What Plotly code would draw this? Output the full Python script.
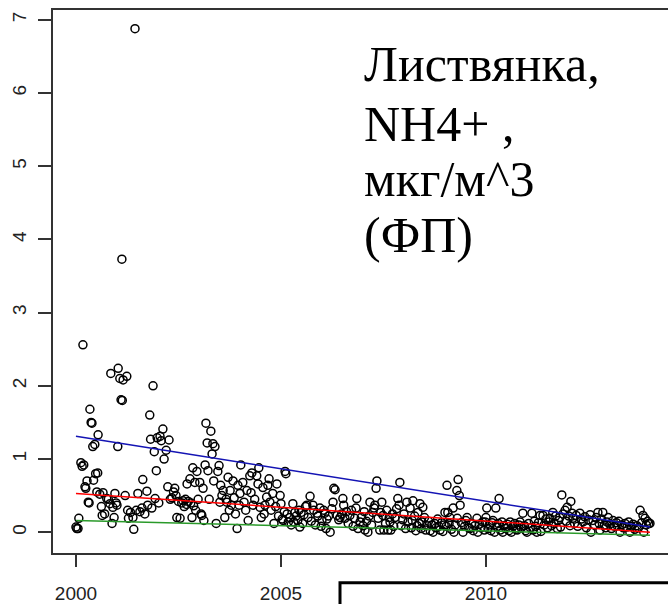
import plotly.graph_objects as go

# ---------------- data ----------------
dates = [
    # 2000
    2000.00, 2000.02, 2000.05, 2000.07, 2000.12, 2000.15, 2000.17, 2000.19, 2000.22, 2000.24,
    2000.27, 2000.30, 2000.32, 2000.34, 2000.37, 2000.39, 2000.41, 2000.43, 2000.46, 2000.48,
    2000.51, 2000.53, 2000.54, 2000.58, 2000.62, 2000.64, 2000.66, 2000.70, 2000.75, 2000.79,
    2000.83, 2000.85, 2000.88, 2000.90, 2000.93, 2000.95, 2000.98,
    # 2001
    2001.00, 2001.02, 2001.03, 2001.07, 2001.10, 2001.12, 2001.13, 2001.15, 2001.20, 2001.24,
    2001.26, 2001.28, 2001.33, 2001.39, 2001.41, 2001.44, 2001.47, 2001.51, 2001.56, 2001.61,
    2001.63, 2001.68, 2001.73, 2001.75, 2001.80, 2001.82, 2001.85, 2001.88, 2001.91, 2001.93,
    2001.96, 2001.98,
    # 2002
    2002.02, 2002.05, 2002.08, 2002.12, 2002.15, 2002.20, 2002.24, 2002.27, 2002.30, 2002.34,
    2002.38, 2002.41, 2002.44, 2002.46, 2002.50, 2002.54, 2002.58, 2002.61, 2002.64, 2002.67,
    2002.70, 2002.71, 2002.74, 2002.78, 2002.80, 2002.83, 2002.85, 2002.87, 2002.90, 2002.92,
    2002.95, 2002.98,
    # 2003
    2003.02, 2003.05, 2003.07, 2003.10, 2003.12, 2003.15, 2003.17, 2003.20, 2003.22, 2003.25,
    2003.29, 2003.32, 2003.34, 2003.36, 2003.39, 2003.42, 2003.46, 2003.49, 2003.51, 2003.53,
    2003.56, 2003.59, 2003.63, 2003.66, 2003.68, 2003.71, 2003.74, 2003.76, 2003.79, 2003.83,
    2003.86, 2003.89, 2003.93, 2003.95, 2003.98,
    # 2004
    2004.00, 2004.02, 2004.07, 2004.10, 2004.14, 2004.17, 2004.20, 2004.24, 2004.27, 2004.29,
    2004.32, 2004.36, 2004.41, 2004.44, 2004.46, 2004.49, 2004.52, 2004.56, 2004.59, 2004.61,
    2004.65, 2004.68, 2004.71, 2004.73, 2004.76, 2004.80, 2004.83, 2004.87, 2004.90, 2004.94,
    2004.98,
    # 2005
    2005.00, 2005.03, 2005.05, 2005.08, 2005.10, 2005.12, 2005.15, 2005.18, 2005.22, 2005.25,
    2005.29, 2005.31, 2005.34, 2005.37, 2005.41, 2005.44, 2005.46, 2005.49, 2005.53, 2005.56,
    2005.60, 2005.63, 2005.66, 2005.71, 2005.74, 2005.78, 2005.80, 2005.84, 2005.88, 2005.90,
    2005.95, 2005.98,
    # 2006
    2006.00, 2006.04, 2006.07, 2006.10, 2006.12, 2006.16, 2006.20, 2006.24, 2006.27, 2006.29,
    2006.32, 2006.37, 2006.41, 2006.44, 2006.48, 2006.51, 2006.53, 2006.56, 2006.60, 2006.64,
    2006.68, 2006.72, 2006.76, 2006.80, 2006.83, 2006.85, 2006.88, 2006.93, 2006.96,
    # 2007
    2007.00, 2007.03, 2007.05, 2007.09, 2007.12, 2007.15, 2007.17, 2007.21, 2007.24, 2007.27,
    2007.29, 2007.32, 2007.34, 2007.37, 2007.41, 2007.43, 2007.46, 2007.49, 2007.51, 2007.55,
    2007.58, 2007.61, 2007.64, 2007.66, 2007.68, 2007.72, 2007.75, 2007.78, 2007.82, 2007.85,
    2007.88, 2007.90, 2007.93, 2007.97,
    # 2008
    2008.00, 2008.04, 2008.07, 2008.10, 2008.15, 2008.18, 2008.20, 2008.22, 2008.26, 2008.29,
    2008.32, 2008.34, 2008.37, 2008.39, 2008.42, 2008.44, 2008.46, 2008.50, 2008.53, 2008.56,
    2008.60, 2008.64, 2008.68, 2008.71, 2008.75, 2008.78, 2008.82, 2008.85, 2008.88, 2008.92,
    2008.95, 2008.98,
    # 2009
    2009.00, 2009.03, 2009.05, 2009.07, 2009.10, 2009.12, 2009.16, 2009.20, 2009.22, 2009.25,
    2009.29, 2009.30, 2009.32, 2009.35, 2009.37, 2009.40, 2009.44, 2009.48, 2009.51, 2009.54,
    2009.58, 2009.61, 2009.65, 2009.69, 2009.73, 2009.78, 2009.80, 2009.84, 2009.88, 2009.92,
    2009.96, 2009.98,
    # 2010
    2010.00, 2010.02, 2010.05, 2010.08, 2010.12, 2010.15, 2010.17, 2010.21, 2010.24, 2010.27,
    2010.30, 2010.32, 2010.35, 2010.39, 2010.41, 2010.44, 2010.48, 2010.52, 2010.56, 2010.59,
    2010.62, 2010.66, 2010.70, 2010.73, 2010.76, 2010.80, 2010.83, 2010.86, 2010.90, 2010.94,
    2010.97,
    # 2011
    2011.00, 2011.04, 2011.08, 2011.12, 2011.15, 2011.18, 2011.21, 2011.24, 2011.28, 2011.32,
    2011.34, 2011.39, 2011.42, 2011.46, 2011.50, 2011.53, 2011.56, 2011.60, 2011.63, 2011.66,
    2011.70, 2011.74, 2011.77, 2011.80, 2011.82, 2011.85, 2011.88, 2011.93, 2011.96, 2011.98,
    # 2012
    2012.02, 2012.05, 2012.07, 2012.10, 2012.12, 2012.16, 2012.20, 2012.24, 2012.29, 2012.33,
    2012.37, 2012.41, 2012.45, 2012.50, 2012.54, 2012.56, 2012.61, 2012.65, 2012.69, 2012.73,
    2012.76, 2012.78, 2012.82, 2012.85, 2012.89, 2012.92, 2012.95, 2012.98,
    # 2013
    2013.02, 2013.06, 2013.10, 2013.14, 2013.18, 2013.20, 2013.24, 2013.27, 2013.31, 2013.35,
    2013.39, 2013.44, 2013.48, 2013.51, 2013.55, 2013.59, 2013.63, 2013.68, 2013.72, 2013.76,
    2013.80, 2013.83, 2013.85, 2013.88, 2013.91, 2013.94, 2013.97, 2014.00,
]

nh4 = [
    # 2000
    0.07, 0.05, 0.05, 0.19, 0.95, 0.90, 2.56, 0.92, 0.62, 0.60,
    0.70, 0.41, 0.40, 1.68, 1.50, 1.49, 1.17, 0.71, 1.20, 0.80,
    0.55, 0.81, 1.33, 0.52, 0.35, 0.23, 0.54, 0.25, 0.46, 0.45,
    0.39, 2.17, 0.12, 0.34, 0.20, 0.53, 0.40,
    # 2001
    0.37, 1.17, 2.24, 2.10, 1.81, 3.73, 1.80, 2.08, 0.50, 2.13,
    0.30, 0.19, 0.27, 0.20, 0.04, 6.88, 0.30, 0.53, 0.28, 0.33,
    0.72, 0.25, 0.56, 0.37, 1.60, 1.27, 0.33, 2.00, 1.10, 0.46,
    0.84, 1.29,
    # 2002
    0.40, 1.31, 1.25, 1.41, 1.00, 1.12, 0.62, 1.26, 0.45, 0.47,
    0.55, 0.60, 0.50, 0.20, 0.42, 0.19, 0.40, 0.43, 0.35, 0.45,
    0.38, 0.66, 0.42, 0.73, 0.40, 0.20, 0.88, 0.36, 0.68, 0.30,
    0.83, 0.45,
    # 2003
    0.68, 0.25, 0.23, 0.60, 0.16, 0.92, 1.49, 1.22, 0.84, 0.45,
    1.38, 1.07, 1.21, 0.70, 1.17, 0.12, 0.83, 0.91, 0.41, 0.64,
    0.50, 0.57, 0.20, 0.45, 0.41, 0.75, 0.30, 0.57, 0.37, 0.70,
    0.47, 0.25, 0.05, 0.64, 0.37,
    # 2004
    0.53, 0.92, 0.68, 0.41, 0.30, 0.57, 0.16, 0.77, 0.54, 0.81,
    0.37, 0.45, 0.77, 0.66, 0.88, 0.34, 0.20, 0.61, 0.25, 0.37,
    0.48, 0.64, 0.73, 0.41, 0.30, 0.53, 0.12, 0.35, 0.66, 0.22,
    0.50,
    # 2005
    0.39, 0.18, 0.16, 0.28, 0.83, 0.80, 0.25, 0.14, 0.20, 0.10,
    0.39, 0.14, 0.27, 0.22, 0.16, 0.30, 0.07, 0.27, 0.12, 0.24,
    0.35, 0.37, 0.20, 0.49, 0.15, 0.37, 0.30, 0.10, 0.26, 0.22,
    0.33, 0.08,
    # 2006
    0.16, 0.30, 0.26, 0.05, 0.18, 0.22, 0.00, 0.32, 0.41, 0.60,
    0.58, 0.23, 0.17, 0.20, 0.25, 0.46, 0.37, 0.19, 0.28, 0.12,
    0.23, 0.30, 0.08, 0.19, 0.33, 0.46, 0.05, 0.14, 0.20,
    # 2007
    0.09, 0.28, 0.03, 0.15, 0.00, 0.22, 0.41, 0.10, 0.27, 0.33,
    0.37, 0.60, 0.70, 0.19, 0.03, 0.27, 0.41, 0.23, 0.03, 0.12,
    0.30, 0.03, 0.20, 0.14, 0.03, 0.25, 0.08, 0.20, 0.32, 0.46,
    0.37, 0.68, 0.09, 0.17,
    # 2008
    0.25, 0.05, 0.41, 0.14, 0.33, 0.06, 0.16, 0.43, 0.22, 0.02,
    0.09, 0.27, 0.12, 0.39, 0.05, 0.14, 0.34, 0.20, 0.03, 0.09,
    0.15, 0.02, 0.10, 0.00, 0.12, 0.06, 0.18, 0.08, 0.03, 0.13,
    0.01, 0.10,
    # 2009
    0.27, 0.08, 0.64, 0.27, 0.12, 0.20, 0.04, 0.33, 0.00, 0.10,
    0.57, 0.19, 0.72, 0.50, 0.37, 0.13, 0.00, 0.08, 0.16, 0.20,
    0.06, 0.05, 0.12, 0.02, 0.09, 0.19, 0.00, 0.11, 0.06, 0.14,
    0.03, 0.14,
    # 2010
    0.20, 0.33, 0.05, 0.10, 0.02, 0.13, 0.16, 0.00, 0.33, 0.07,
    0.12, 0.46, 0.03, 0.14, 0.00, 0.09, 0.05, 0.11, 0.02, 0.14,
    0.00, 0.08, 0.12, 0.04, 0.03, 0.10, 0.14, 0.06, 0.26, 0.09,
    0.02,
    # 2011
    0.00, 0.12, 0.06, 0.26, 0.03, 0.15, 0.08, 0.00, 0.13, 0.23,
    0.01, 0.23, 0.10, 0.18, 0.06, 0.14, 0.19, 0.09, 0.27, 0.12,
    0.22, 0.05, 0.16, 0.20, 0.07, 0.51, 0.25, 0.30, 0.15, 0.34,
    # 2012
    0.22, 0.09, 0.42, 0.26, 0.19, 0.12, 0.23, 0.08, 0.26, 0.18,
    0.14, 0.21, 0.06, 0.17, 0.24, 0.00, 0.16, 0.10, 0.20, 0.27,
    0.12, 0.03, 0.18, 0.27, 0.10, 0.06, 0.14, 0.20,
    # 2013
    0.11, 0.05, 0.16, 0.08, 0.13, 0.09, 0.15, 0.00, 0.10, 0.06,
    0.12, 0.07, 0.14, 0.00, 0.08, 0.11, 0.04, 0.09, 0.06, 0.30,
    0.13, 0.23, 0.00, 0.19, 0.10, 0.15, 0.12, 0.12,
]

# quantile trend lines (end points)
trend_x = [2000.0, 2014.0]
q_upper = [1.31, 0.07]
q_median = [0.53, 0.00]
q_lower = [0.16, -0.04]

x_tick_vals = [2000, 2005, 2010]
x_tick_text = ["2000", "2005", "2010"]
y_tick_vals = [0, 1, 2, 3, 4, 5, 6, 7]
y_tick_text = ["0", "1", "2", "3", "4", "5", "6", "7"]

label_lines = ["Листвянка,", "NH4+ ,", "мкг/м^3", "(ФП)"]

# ---------------- figure ----------------
W, H = 668, 604
ML, MR, MT, MB = 53, 0, 10, 46
plot_h = H - MT - MB
plot_w = W - ML - MR

fig = go.Figure()
fig.add_trace(go.Scatter(
    x=dates, y=nh4, mode="markers",
    marker=dict(symbol="circle-open", size=8, color="black",
                line=dict(width=1.5, color="black")),
    hoverinfo="skip",
))
for yy, col in [(q_upper, "#1414b4"), (q_median, "#ff0000"), (q_lower, "#2a9a2a")]:
    fig.add_trace(go.Scatter(x=trend_x, y=yy, mode="lines",
                             line=dict(color=col, width=1.5), hoverinfo="skip"))

axis_col = "#333333"
tick_font = dict(family="Liberation Sans, Arial, sans-serif", size=19, color="#222222")

fig.update_xaxes(
    range=[1999.44, 2014.44], tickmode="array", tickvals=x_tick_vals, ticktext=x_tick_text,
    ticks="outside", ticklen=12, tickwidth=1.5, tickcolor=axis_col,
    showline=True, linecolor=axis_col, linewidth=1.5, mirror=True,
    showgrid=False, zeroline=False, tickfont=tick_font, ticklabelstandoff=10,
)
fig.update_yaxes(
    range=[-0.284, 7.135], tickmode="array", tickvals=y_tick_vals, ticktext=y_tick_text,
    ticks="outside", ticklen=13, tickwidth=1.5, tickcolor=axis_col, tickangle=-90,
    showline=True, linecolor=axis_col, linewidth=1.5, mirror=False,
    showgrid=False, zeroline=False, tickfont=tick_font, ticklabelstandoff=5,
)

# text block in the upper right
baselines = [83, 143, 199, 255]
fs = 50
annotations = []
for txt, b in zip(label_lines, baselines):
    annotations.append(dict(
        text=txt, xref="paper", yref="paper",
        x=(362 - ML) / plot_w, y=(MT + plot_h - (b + 0.22 * fs + 1)) / plot_h,
        xanchor="left", yanchor="bottom", showarrow=False, align="left",
        font=dict(family="Liberation Serif, DejaVu Serif, serif", size=fs, color="black"),
    ))

# partial frame at the bottom right
shapes = [dict(
    type="rect", xref="paper", yref="paper",
    x0=(340 - ML) / plot_w, x1=1.2,
    y0=(MT + plot_h - 588) / plot_h, y1=-0.5,
    line=dict(color="black", width=3), fillcolor="rgba(0,0,0,0)",
)]

fig.update_layout(
    width=W, height=H, margin=dict(l=ML, r=MR, t=MT, b=MB),
    paper_bgcolor="white", plot_bgcolor="white", showlegend=False,
    annotations=annotations, shapes=shapes,
)

fig.write_html("out.html")
